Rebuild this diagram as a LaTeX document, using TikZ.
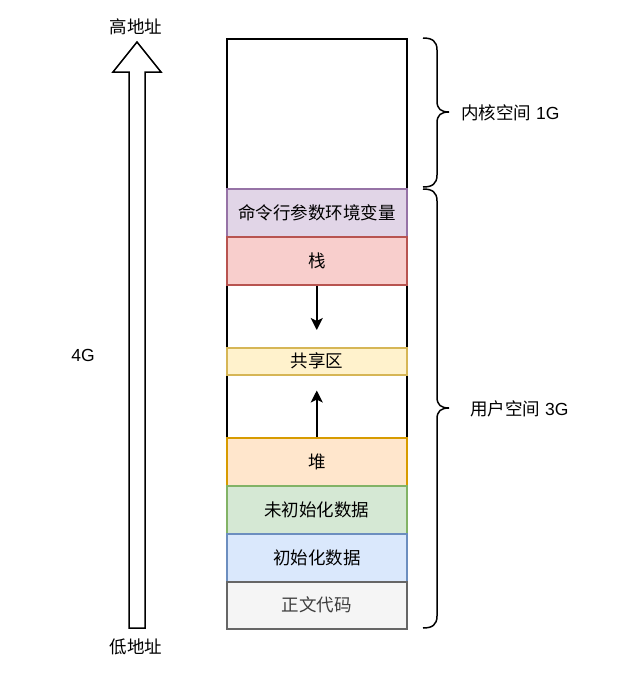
\documentclass[tikz,border=0pt]{standalone}
\usepackage{fontspec}
\setmainfont{Liberation Sans}
\newfontfamily\cjk{Noto Sans CJK SC}
\usetikzlibrary{arrows.meta}
\definecolor{pf}{HTML}{E1D5E7}\definecolor{pd}{HTML}{9673A6}
\definecolor{rf}{HTML}{F8CECC}\definecolor{rd}{HTML}{B85450}
\definecolor{yf}{HTML}{FFF2CC}\definecolor{yd}{HTML}{D6B656}
\definecolor{of}{HTML}{FFE6CC}\definecolor{od}{HTML}{D79B00}
\definecolor{gf}{HTML}{D5E8D4}\definecolor{gd}{HTML}{82B366}
\definecolor{bf}{HTML}{DAE8FC}\definecolor{bd}{HTML}{6C8EBF}
\definecolor{sf}{HTML}{F5F5F5}\definecolor{sd}{HTML}{666666}
\tikzset{
  txt/.style={font=\fontsize{17.5}{20}\selectfont, inner sep=0pt},
  seg/.style={draw, line width=1.5pt, minimum width=180pt, anchor=north west, inner sep=0pt, font=\cjk\fontsize{17.5}{20}\selectfont},
  arr/.style={line width=1.5pt, -{Stealth[length=12pt,width=12pt,inset=3pt]}},
  line/.style={line width=1.5pt}
}
\begin{document}
\begin{tikzpicture}[x=1pt,y=-1pt]
\useasboundingbox[fill=white] (0,0) rectangle (624,686);
% outer memory
\node[draw, line width=1.5pt, minimum width=180pt, minimum height=590pt, anchor=north west, inner sep=0pt] (mem) at (226,38) {};
% segments
\node[seg, fill=pf, draw=pd, minimum height=48pt] (cmd) at (226,188) {命令行参数环境变量};
\node[seg, fill=rf, draw=rd, minimum height=48pt] (stack) at (226,236) {栈};
\node[seg, fill=yf, draw=yd, minimum height=27pt] (shared) at (226,347) {共享区};
\node[seg, fill=of, draw=od, minimum height=48pt] (heap) at (226,437) {堆};
\node[seg, fill=gf, draw=gd, minimum height=48pt] (bss) at (226,485) {未初始化数据};
\node[seg, fill=bf, draw=bd, minimum height=48pt] (data) at (226,533) {初始化数据};
\node[seg, fill=sf, draw=sd, minimum height=47pt, text=sd!60!black] (code) at (226,581) {正文代码};
% growth arrows
\draw[arr, shorten >=17pt] (stack.south) -- (shared.north);
\draw[arr, shorten >=15pt] (heap.north) -- (shared.south);
% big address arrow
\draw[line, line join=miter] (129,628) -- (129,72) -- (113,72) -- (137,42) -- (161,72) -- (145,72) -- (145,628) -- cycle;
\node[txt] (hi) at (136,27) {\cjk 高地址};
\node[txt] (lo) at (136,647) {\cjk 低地址};
\node[txt] (fourg) at (83,355) {4G};
% braces
\draw[line] (423,38) .. controls (432,38) and (437,41) .. (437,50) -- (437,101)
  .. controls (437,109) and (441,112) .. (449,112)
  .. controls (441,112) and (437,115) .. (437,123) -- (437,175)
  .. controls (437,184) and (432,187) .. (423,187);
\draw[line] (423,189) .. controls (432,189) and (437,192) .. (437,201) -- (437,397)
  .. controls (437,405) and (441,408) .. (449,408)
  .. controls (441,408) and (437,411) .. (437,419) -- (437,616)
  .. controls (437,625) and (432,628) .. (423,628);
\node[txt, anchor=west] (kern) at (461,113) {{\cjk 内核空间} 1G};
\node[txt, anchor=west] (user) at (470,409) {{\cjk 用户空间} 3G};
\end{tikzpicture}
\end{document}
